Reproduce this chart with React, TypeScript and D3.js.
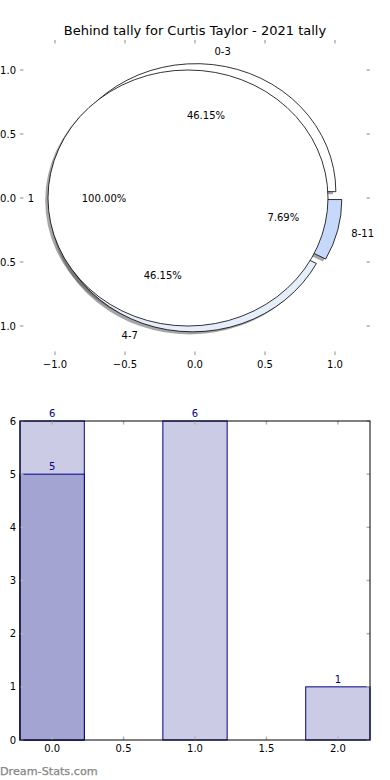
import React from "react";
import * as d3 from "d3";

// outer pie (by range)
const pieLabels = ["0-3", "4-7", "8-11"];
const pieCounts = [6, 6, 1];
// inner pie
const innerLabels = ["1"];
const innerCounts = [13];

// bars
const barPos = [0, 1, 2];
const barTotals = [6, 6, 1];
const barSubPos = [0];
const barSub = [5];

const xTicksPie = [-1, -0.5, 0, 0.5, 1];
const yTicksPie = [-1, -0.5, 0, 0.5, 1];
const xTicksBar = [0, 0.5, 1, 1.5, 2];
const yTicksBar = [0, 1, 2, 3, 4, 5, 6];

const pieFill = ["#ffffff", "#e6edfb", "#c6d9fa"];
const innerFill = ["#ffffff"];
const FONT = "DejaVu Sans, sans-serif";
const TICK = "#b4b4b4";
const NAVY = "#00008b";

const W = 390;
const H = 780;

type Wedge = {
  label: string;
  pct: number;
  a0: number;
  a1: number;
  cx: number;
  cy: number;
  fill: string;
};

// d3 angles: clockwise from 12 o'clock; start at 3 o'clock, go counter-clockwise
function buildPie(labels: string[], counts: number[], fills: string[], explode: number): Wedge[] {
  const total = d3.sum(counts);
  const arcs = d3
    .pie<number>()
    .sort(null)
    .startAngle(Math.PI / 2)
    .endAngle(Math.PI / 2 - 2 * Math.PI)(counts);
  return arcs.map((a, i) => {
    const m = (a.startAngle + a.endAngle) / 2;
    return {
      label: labels[i],
      pct: (counts[i] / total) * 100,
      a0: a.startAngle,
      a1: a.endAngle,
      cx: explode * Math.sin(m),
      cy: explode * Math.cos(m),
      fill: fills[i],
    };
  });
}

const App: React.FC = () => {
  // pie axes
  const sx = d3.scaleLinear().domain([-1.25, 1.25]).range([20, 370]);
  const sy = d3.scaleLinear().domain([-1, 1]).range([326, 70]);
  const kx = sx(1) - sx(0);
  const ky = sy(0) - sy(1);
  const pieTop = 40;
  const pieBottom = 355;

  const outer = buildPie(pieLabels, pieCounts, pieFill, 0.05);
  const inner = buildPie(innerLabels, innerCounts, innerFill, 0.05);
  const all = [...outer, ...inner];

  const arc = d3.arc<any>().innerRadius(0).outerRadius(1);
  const wedgePath = (w: Wedge) => arc({ startAngle: w.a0, endAngle: w.a1 }) as string;
  const tf = (cx: number, cy: number) => `translate(${sx(cx)},${sy(cy)}) scale(${kx},${ky})`;

  const fmtPct = (v: number) => `${v.toFixed(2)}%`;
  const fmt1 = d3.format(".1f");

  // bar axes
  const bx = d3.scaleLinear().domain([-0.225, 2.225]).range([20, 370]);
  const by = d3.scaleLinear().domain([0, 6]).range([740, 421]);
  const bw = 0.45;

  return (
    <svg width={W} height={H} style={{ position: "absolute", left: 0, top: 0, background: "#fff" }} fontFamily={FONT}>
      <rect width={W} height={H} fill="#fff" />
      <text x={195} y={34.5} textAnchor="middle" fontSize={13} fill="#000">
        Behind tally for Curtis Taylor - 2021 tally
      </text>

      {/* pie ticks */}
      {xTicksPie.map((t) => (
        <g key={"px" + t}>
          <line x1={sx(t)} x2={sx(t)} y1={pieTop} y2={pieTop + 3.5} stroke={TICK} strokeWidth={1.5} />
          <line x1={sx(t)} x2={sx(t)} y1={pieBottom} y2={pieBottom - 3.5} stroke={TICK} strokeWidth={1.5} />
          <text x={sx(t)} y={367.5} textAnchor="middle" fontSize={10}>
            {fmt1(t)}
          </text>
        </g>
      ))}
      {yTicksPie.map((t) => (
        <g key={"py" + t}>
          <line x1={20} x2={23.5} y1={sy(t)} y2={sy(t)} stroke={TICK} strokeWidth={1.5} />
          <line x1={370} x2={366.5} y1={sy(t)} y2={sy(t)} stroke={TICK} strokeWidth={1.5} />
          <text x={16} y={sy(t)} dy="0.35em" textAnchor="end" fontSize={10}>
            {fmt1(t)}
          </text>
        </g>
      ))}

      {/* shadows */}
      {all.map((w, i) => (
        <path
          key={"s" + i}
          d={wedgePath(w)}
          transform={tf(w.cx - 0.02, w.cy - 0.02)}
          fill="#4d4d4d"
          fillOpacity={0.5}
        />
      ))}
      {/* wedges */}
      {all.map((w, i) => (
        <path
          key={"w" + i}
          d={wedgePath(w)}
          transform={tf(w.cx, w.cy)}
          fill={w.fill}
          stroke="#000"
          strokeWidth={0.8}
          vectorEffect="non-scaling-stroke"
          strokeLinejoin="round"
        />
      ))}
      {/* labels */}
      {all.map((w, i) => {
        const m = (w.a0 + w.a1) / 2;
        const lx = w.cx + 1.1 * Math.sin(m);
        const ly = w.cy + 1.1 * Math.cos(m);
        const px = w.cx + 0.6 * Math.sin(m);
        const py = w.cy + 0.6 * Math.cos(m);
        return (
          <g key={"l" + i} fontSize={10}>
            <text x={sx(lx)} y={sy(ly)} dy="0.35em" textAnchor={lx > 0 ? "start" : "end"}>
              {w.label}
            </text>
            <text x={sx(px)} y={sy(py)} dy="0.35em" textAnchor="middle">
              {fmtPct(w.pct)}
            </text>
          </g>
        );
      })}

      {/* bar chart */}
      {barPos.map((p, i) => (
        <rect
          key={"b" + i}
          x={bx(p - bw / 2)}
          y={by(barTotals[i])}
          width={bx(p + bw / 2) - bx(p - bw / 2)}
          height={by(0) - by(barTotals[i])}
          fill="#cbcbe5"
          stroke={NAVY}
          strokeWidth={1}
        />
      ))}
      {barSubPos.map((p, i) => (
        <rect
          key={"bs" + i}
          x={bx(p - bw / 2)}
          y={by(barSub[i])}
          width={bx(p + bw / 2) - bx(p - bw / 2)}
          height={by(0) - by(barSub[i])}
          fill="#a4a4d3"
          stroke={NAVY}
          strokeWidth={1}
        />
      ))}
      {barPos.map((p, i) => (
        <text key={"bl" + i} x={bx(p)} y={by(barTotals[i]) - 4} textAnchor="middle" fontSize={10} fill={NAVY}>
          {barTotals[i]}
        </text>
      ))}
      {barSubPos.map((p, i) => (
        <text key={"bsl" + i} x={bx(p)} y={by(barSub[i]) - 4} textAnchor="middle" fontSize={10} fill={NAVY}>
          {barSub[i]}
        </text>
      ))}

      {xTicksBar.map((t) => (
        <g key={"bx" + t}>
          <line x1={bx(t)} x2={bx(t)} y1={421} y2={424.5} stroke={TICK} strokeWidth={1.5} />
          <line x1={bx(t)} x2={bx(t)} y1={740} y2={736.5} stroke={TICK} strokeWidth={1.5} />
          <text x={bx(t)} y={752} textAnchor="middle" fontSize={10}>
            {fmt1(t)}
          </text>
        </g>
      ))}
      {yTicksBar.map((t) => (
        <g key={"by" + t}>
          <line x1={20} x2={23.5} y1={by(t)} y2={by(t)} stroke={TICK} strokeWidth={1.5} />
          <line x1={370} x2={366.5} y1={by(t)} y2={by(t)} stroke={TICK} strokeWidth={1.5} />
          <text x={16} y={by(t)} dy="0.35em" textAnchor="end" fontSize={10}>
            {t}
          </text>
        </g>
      ))}
      <rect x={20} y={421} width={350} height={319} fill="none" stroke="#000" strokeWidth={1} />

      <text x={0} y={774.5} fontSize={11.2} fill="#868686" stroke="#868686" strokeWidth={0.25}>
        Dream-Stats.com
      </text>
    </svg>
  );
};

export default App;
